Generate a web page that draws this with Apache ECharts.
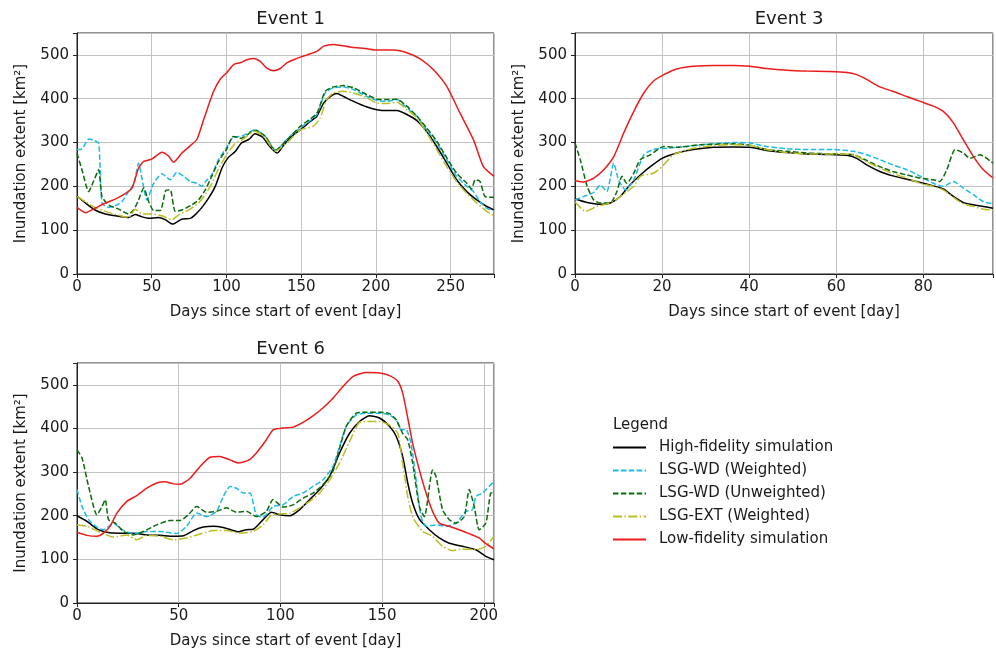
<!DOCTYPE html>
<html>
<head>
<meta charset="utf-8">
<script src="https://cdn.jsdelivr.net/npm/echarts@6/dist/echarts.min.js"></script>
<style>
html, body { margin: 0; padding: 0; background: #fff; }
#chart { width: 996px; height: 652px; }
</style>
</head>
<body>
<div id="chart"></div>
<script>
// series names (legend order)
var names = ['High-fidelity simulation', 'LSG-WD (Weighted)', 'LSG-WD (Unweighted)', 'LSG-EXT (Weighted)', 'Low-fidelity simulation'];

// Event 1 : [day, km2]
var ev1High = [[0,178],[5.6,162],[12,146],[19,137],[25.6,133],[34.5,129],[39,136],[43,131],[48,127],[54.6,129],[59,124],[64,114],[70,125],[75.8,127],[79,135],[83.6,152],[88,173],[92.5,200],[97,242],[101,265],[106,280],[110,299],[115,307],[119,320],[124,313],[128,295],[132,280],[134,276],[137,288],[140.4,303],[145,318],[149.4,329],[156,348],[160.5,360],[165,390],[169.4,405],[173.9,412],[178.3,405],[185,394],[194,381],[200.6,375],[207.3,373],[214,373],[220.7,364],[227.4,350],[234,325],[240.7,291],[247.4,253],[254,215],[260.8,188],[267.5,169],[274.2,154],[279,146]];
var ev1WdW = [[0,284],[3.3,285],[7.8,308],[11,305],[14.5,299],[16.7,162],[21,152],[25.6,156],[30,165],[34.5,188],[37.9,204],[41.2,253],[43.4,219],[46.8,169],[51.3,207],[56.8,229],[62.4,215],[66.8,232],[71.3,223],[75.8,211],[80.2,207],[83.6,200],[86,211],[90.2,227],[94.7,261],[100,288],[104.7,313],[110,314],[119,329],[126,314],[132,284],[134,283],[138,299],[145,322],[154,345],[160.5,364],[166,413],[171.6,425],[178.3,427],[185,421],[194,405],[200.6,396],[207.3,394],[214,398],[220.7,379],[227.4,360],[234,329],[240.7,299],[247.4,261],[254,223],[260.8,200],[265.3,188],[269.7,165],[274.2,150],[279,145]];
var ev1WdU = [[0,276],[3.3,238],[7.8,188],[11,211],[14.5,238],[16.7,177],[21,158],[27.9,148],[34.5,137],[37.9,146],[41.2,169],[44.6,196],[48,165],[51.3,145],[55.7,145],[59.5,191],[62.4,192],[65.7,143],[70.2,146],[76.9,158],[81.3,169],[85.8,192],[90.2,223],[94.7,257],[100,284],[104.7,314],[110,310],[119,328],[126,314],[132.6,282],[140.4,306],[149.4,337],[160.5,367],[166,417],[171.6,427],[178.3,430],[185,425],[194,409],[200.6,399],[207.3,398],[214,399],[220.7,383],[227.4,360],[234,333],[240.7,303],[247.4,265],[254,230],[260.8,207],[264,194],[266.4,215],[269.7,211],[273,177],[279,175]];
var ev1Ext = [[0,177],[5.6,165],[12,152],[19,143],[25.6,136],[34.5,129],[39,148],[43.4,137],[50,137],[56.8,133],[63.5,124],[68,135],[74.6,146],[81.3,162],[85.8,181],[90.2,207],[94.7,240],[100,272],[105.8,298],[110,305],[119,326],[126,310],[132.6,280],[140.4,299],[149.4,329],[158,337],[162.7,356],[167,398],[171.6,413],[178.3,417],[185,413],[194,402],[200.6,390],[207.3,389],[214,392],[220.7,375],[227.4,356],[234,322],[240.7,284],[247.4,245],[254,211],[260.8,184],[267.5,162],[274.2,143],[279,133]];
var ev1Low = [[0,152],[5.6,140],[12,150],[19,162],[25.6,171],[32,183],[36.8,196],[41.2,242],[44.6,257],[50,262],[56.8,278],[61.3,269],[64.6,255],[70.2,276],[75.8,293],[80.2,307],[84.7,352],[87,375],[91.4,417],[95.9,445],[100.3,460],[104.8,478],[109.2,482],[113.7,489],[118.1,492],[122.6,485],[127,470],[131.5,464],[136,469],[140.4,482],[144.9,489],[149.4,495],[160.5,508],[165,520],[171.6,524],[182.8,518],[194,514],[200.6,511],[211.8,511],[220.7,505],[229.6,491],[238.5,466],[247.4,428],[256.3,367],[265.3,306],[271.9,245],[279,223]];

// Event 3
var ev3High = [[0,171],[2.8,163],[5.8,159],[8.1,162],[10.4,177],[12.7,204],[15,226],[17.3,245],[20,264],[23.4,276],[27.2,284],[31.8,289],[36.4,290],[40.2,289],[44,282],[48.7,277],[53.3,274],[57.8,273],[62.4,271],[64.7,264],[67,249],[70,234],[73,224],[76.2,216],[79.3,209],[82.3,201],[84.6,194],[86.9,177],[89.2,163],[91.5,158],[93.8,154],[96,150]];
var ev3WdW = [[0,169],[2,177],[4.3,186],[5.8,203],[7.3,188],[8.9,253],[10,215],[11.6,192],[13.5,215],[15.8,272],[18,284],[21,287],[25.7,291],[30.3,296],[36.4,300],[40.2,299],[44,291],[48.7,286],[53.3,284],[59.4,284],[64,280],[67,272],[70,261],[73,249],[76.2,238],[79.3,223],[82.3,207],[84.6,200],[86.9,211],[89.2,196],[91.5,181],[93.8,165],[96,160]];
var ev3WdU = [[0,299],[1.2,261],[2.8,200],[4.3,169],[5.8,162],[8.1,162],[9.6,188],[10.8,223],[11.9,207],[13.5,230],[15,261],[17.3,272],[20.4,291],[23.4,289],[28.8,295],[36.4,297],[40.2,294],[44,284],[48.7,280],[53.3,276],[59.4,274],[64,272],[67,259],[70,245],[73,234],[76.2,226],[79.3,219],[82.3,215],[83.8,211],[85.4,238],[87.3,284],[89.2,276],[90.7,264],[93,272],[96,253]];
var ev3Ext = [[0,165],[2.4,143],[5,154],[7.3,160],[9.3,169],[11.9,188],[13.5,200],[15,223],[18,230],[20,245],[22.6,272],[27.2,287],[31.8,293],[36.4,295],[40.2,293],[44,284],[48.7,277],[53.3,274],[59.4,274],[64,272],[67,256],[70,242],[73,229],[76.2,219],[79.3,207],[82.3,200],[84.6,192],[86.9,175],[89.2,160],[91.5,154],[93.8,148],[96,146]];
var ev3Low = [[0,213],[2,210],[4.3,219],[6.6,238],[8.9,268],[11.2,322],[13.5,371],[15.8,413],[18,440],[20.4,455],[23.4,468],[27.2,474],[31.8,476],[36.4,476],[40.2,474],[44,469],[48.7,465],[53.3,463],[57.8,462],[62.4,460],[64.7,455],[67,444],[70,427],[73,417],[76.2,405],[79.3,394],[82.3,383],[84.6,371],[86.9,345],[89.2,306],[91.5,268],[93.8,238],[96,219]];

// Event 6
var ev6High = [[0,200],[4.9,187],[9.8,170],[14.7,162],[21.2,160],[27.8,160],[34.3,156],[40.8,155],[47.4,153],[52.3,154],[57.2,166],[62.1,174],[67,176],[71.9,173],[76.8,166],[79.2,163],[83.3,168],[86.6,169],[91.5,191],[95.6,208],[99.7,202],[104.6,200],[109.5,214],[114.4,237],[119.3,260],[124.2,290],[129.1,344],[134,389],[138.9,416],[143.8,429],[148.7,424],[153.6,405],[156.9,382],[160.1,336],[162.6,275],[165,229],[168.3,192],[173.2,168],[178.1,149],[183,137],[189.5,130],[196.1,122],[201,107],[205,99]];
var ev6WdW = [[0,260],[2.5,221],[5.7,191],[9.8,174],[13,168],[18,183],[22,168],[27.8,159],[34.3,164],[40.8,164],[49,159],[53.9,176],[58.8,206],[63.7,198],[68.6,210],[71.9,244],[75.2,267],[78.4,263],[81.7,252],[85,252],[88.2,202],[91.5,197],[96.4,221],[101.3,225],[106.2,244],[111.1,252],[116,267],[120.9,282],[125.8,313],[129.1,359],[132.4,405],[137.3,431],[142.2,435],[148.7,435],[153.6,431],[156.9,420],[159.3,397],[161.8,397],[164.2,366],[166.7,282],[169.1,198],[171.6,176],[176.5,179],[181.4,176],[186.3,183],[191.2,210],[194.4,214],[196.1,244],[199.3,252],[205,279]];
var ev6WdU = [[0,351],[2.5,332],[5.7,267],[9.8,202],[12.3,221],[13.9,237],[15.5,191],[18.8,183],[22.9,164],[27.8,156],[32.7,164],[39.2,179],[45.8,189],[50.7,189],[54.7,202],[58.8,221],[63.7,208],[68.6,210],[73.5,218],[78.4,208],[83.3,210],[88.2,198],[93.1,210],[96.4,237],[101.3,220],[106.2,225],[111.1,240],[116,252],[120.9,271],[125.8,302],[129.1,355],[132.4,405],[137.3,435],[142.2,437],[148.7,437],[153.6,434],[156.9,420],[160.1,389],[162.6,374],[165,321],[168.3,221],[170.8,198],[174.8,305],[176.5,290],[179.7,214],[183,191],[186.3,183],[190.4,198],[192.8,260],[195.3,221],[197.7,168],[201,183],[203.4,252],[205,253]];
var ev6Ext = [[0,179],[4.9,176],[11.4,162],[18,151],[24.5,156],[29.4,145],[34.3,155],[40.8,153],[47.4,145],[53.9,149],[60.5,158],[67,166],[73.5,166],[80,160],[86.6,164],[91.5,179],[95.6,202],[99.7,204],[104.6,206],[109.5,218],[114.4,233],[119.3,252],[124.2,282],[129.1,321],[134,370],[138.9,414],[143.8,416],[148.7,416],[153.6,408],[157.7,389],[160.1,321],[162.6,244],[165,198],[169.9,164],[174.8,153],[179.7,130],[184.6,120],[189.5,124],[196.1,122],[201,130],[205,153]];
var ev6Low = [[0,162],[4.9,155],[9.8,153],[13,160],[16.3,176],[19.6,206],[24.5,233],[29.4,246],[34.3,263],[39.2,275],[43.3,278],[47.4,273],[50.7,272],[55.6,286],[60.5,313],[65.4,334],[70.3,336],[75.2,328],[79.2,321],[84.2,327],[88.2,344],[93.1,374],[96.4,397],[101.3,401],[106.2,403],[111.1,414],[116,429],[120.9,447],[125.8,469],[130.7,496],[135.6,519],[142.2,528],[148.7,527],[153.6,521],[157.7,508],[160.1,481],[162.6,424],[165,366],[168.3,305],[171.6,252],[174.8,210],[178.1,183],[183,176],[187.9,168],[192.8,159],[197.7,149],[201,136],[205,124]];

var events = [
  {title: 'Event 1', max: 279, interval: 50, data: [ev1High, ev1WdW, ev1WdU, ev1Ext, ev1Low]},
  {title: 'Event 3', max: 96, interval: 20, data: [ev3High, ev3WdW, ev3WdU, ev3Ext, ev3Low]},
  {title: 'Event 6', max: 205, interval: 50, data: [ev6High, ev6WdW, ev6WdU, ev6Ext, ev6Low]}
];
var yTicks = [0, 100, 200, 300, 400, 500];

var colors = ['#000000', '#1cbbe6', '#0b6b0b', '#bcbd22', '#ec1c1c'];
var dashes = ['solid', [5.5, 2.4], [5.5, 2.4], [9, 2.4, 1.5, 2.4], 'solid'];

var font = 'DejaVu Sans';
var ink = '#1a1a1a';
var grids = [
  {left: 77, top: 33, width: 417, height: 241},
  {left: 575, top: 33, width: 418, height: 241},
  {left: 77, top: 363, width: 417, height: 240}
];

var chart = echarts.init(document.getElementById('chart'), null, {renderer: 'canvas'});

var option = {
  backgroundColor: '#fff',
  animation: false,
  textStyle: {fontFamily: font},
  title: [],
  grid: [],
  xAxis: [],
  yAxis: [],
  series: [],
  legend: {
    data: names,
    orient: 'vertical',
    left: 612,
    top: 440,
    padding: 0,
    itemWidth: 33,
    itemHeight: 15,
    itemGap: 8,
    itemStyle: {opacity: 0},
    textStyle: {fontFamily: font, fontSize: 15, color: ink, padding: [0, 0, 0, 8]}
  },
  graphic: [{
    type: 'text', left: 613, top: 418,
    style: {text: 'Legend', font: '15px "DejaVu Sans"', fill: ink}
  }]
};

events.forEach(function (ev, i) {
  var g = grids[i];
  option.grid.push({left: g.left, top: g.top, width: g.width, height: g.height,
    show: true, borderColor: '#222', borderWidth: 1, backgroundColor: 'transparent'});
  option.title.push({text: ev.title, left: g.left + g.width / 2, top: g.top - 28, textAlign: 'center',
    textStyle: {fontFamily: font, fontSize: 18, fontWeight: 'normal', color: ink}});
  option.xAxis.push({
    gridIndex: i, type: 'value', min: 0, max: ev.max, interval: ev.interval,
    name: 'Days since start of event [day]', nameLocation: 'middle', nameGap: 31,
    nameTextStyle: {fontFamily: font, fontSize: 15, color: ink},
    axisLine: {show: true, onZero: false, lineStyle: {color: '#222', width: 1}},
    axisTick: {show: true, length: 4, lineStyle: {color: '#222'}},
    axisLabel: {fontFamily: font, fontSize: 15, color: ink, margin: 6,
      formatter: function (v) { return v % ev.interval === 0 ? String(v) : ''; }},
    splitLine: {show: true, lineStyle: {color: '#c2c2c2', width: 1}}
  });
  option.yAxis.push({
    gridIndex: i, type: 'value', min: 0, max: 550, interval: 100,
    name: 'Inundation extent [km²]', nameLocation: 'middle', nameGap: 48,
    nameTextStyle: {fontFamily: font, fontSize: 15, color: ink},
    axisLine: {show: true, onZero: false, lineStyle: {color: '#222', width: 1}},
    axisTick: {show: true, length: 4, lineStyle: {color: '#222'}},
    axisLabel: {fontFamily: font, fontSize: 15, color: ink, margin: 8,
      formatter: function (v) { return yTicks.indexOf(v) >= 0 ? String(v) : ''; }},
    splitLine: {show: true, lineStyle: {color: '#c2c2c2', width: 1}}
  });
  ev.data.forEach(function (d, k) {
    option.series.push({
      name: names[k], type: 'line', xAxisIndex: i, yAxisIndex: i,
      data: d, showSymbol: false, symbol: 'none', smooth: 0.2,
      color: colors[k],
      lineStyle: {color: colors[k], width: 1.5, type: dashes[k]},
      z: 2 + k
    });
  });
});

chart.setOption(option);
</script>
</body>
</html>
